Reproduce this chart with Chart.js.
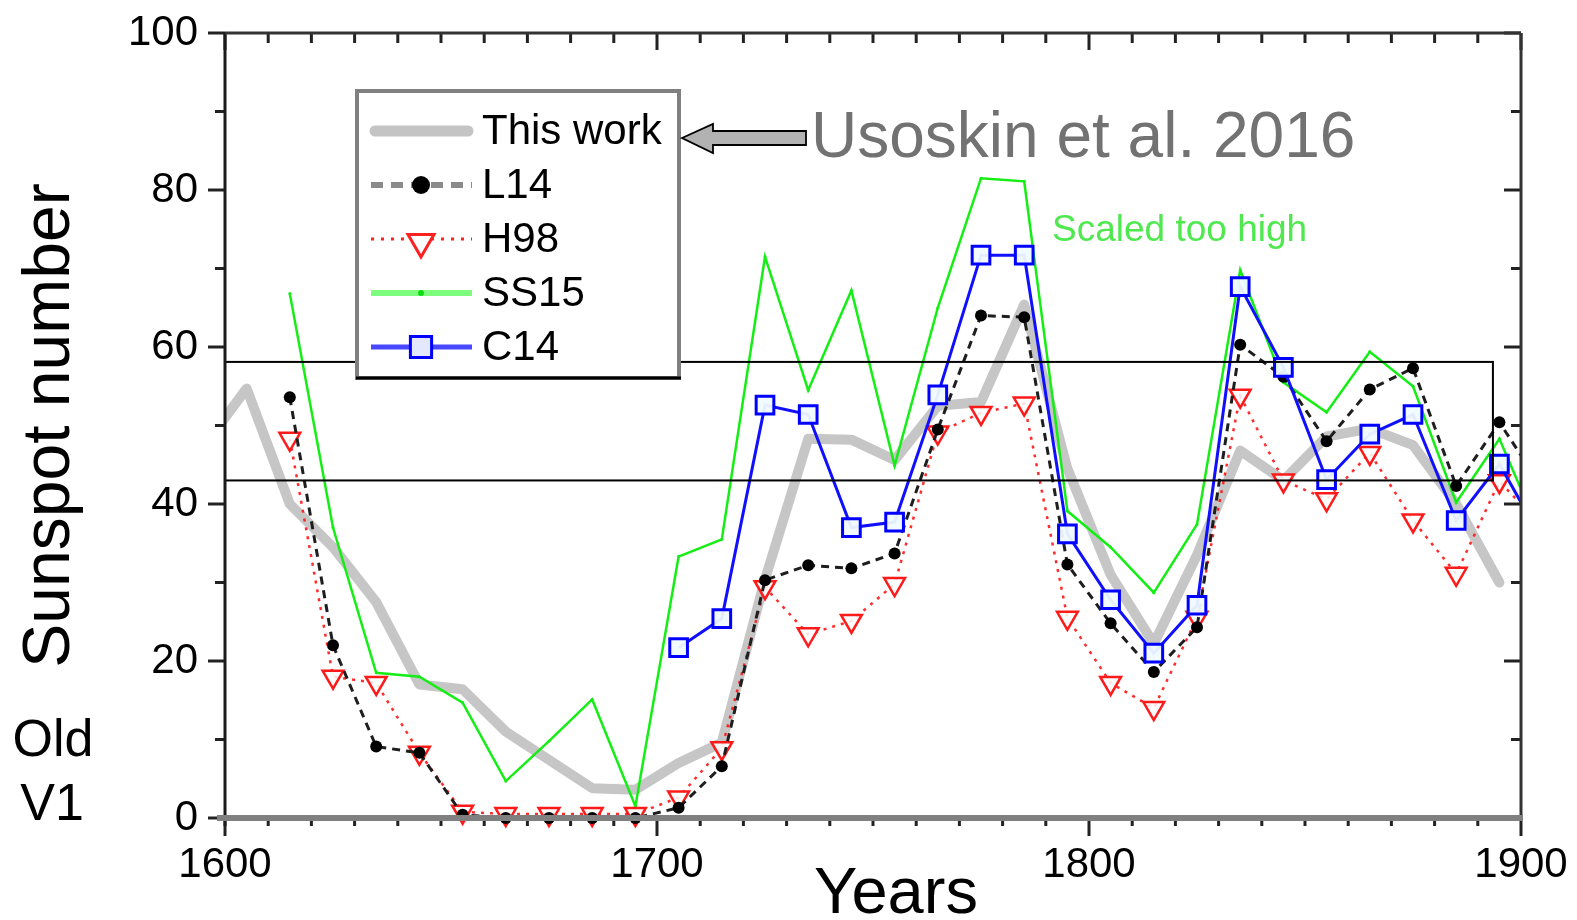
<!DOCTYPE html>
<html>
<head>
<meta charset="utf-8">
<script src="https://cdn.jsdelivr.net/npm/chart.js@4/dist/chart.umd.min.js"></script>
<style>
  html, body { margin: 0; padding: 0; background: #fff; }
  #wrap { position: relative; width: 1577px; height: 920px; }
</style>
</head>
<body>
<div id="wrap"><canvas id="chart"></canvas></div>
<script>
// decade mid-points; 1595 and 1905 sit just outside the axis and get clipped
const YEARS = [1595, 1605, 1615, 1625, 1635, 1645, 1655, 1665, 1675, 1685, 1695,
    1705, 1715, 1725, 1735, 1745, 1755, 1765, 1775, 1785, 1795,
    1805, 1815, 1825, 1835, 1845, 1855, 1865, 1875, 1885, 1895, 1905];

const THIS_WORK = [47.3, 54.7, 40.0, 34.5, 27.5, 17.0, 16.4, 11.0, 7.4, 3.8, 3.6,
    7.0, 9.6, 30.4, 48.3, 48.2, 45.6, 52.5, 53.0, 65.4, 44.5,
    31.0, 22.2, 33.5, 46.8, 43.0, 48.6, 49.6, 47.5, 40.0, 30.0, null];

const L14 = [null, null, 53.6, 22.0, 9.1, 8.3, 0.4, 0, 0, 0, 0,
    1.3, 6.6, 30.3, 32.2, 31.8, 33.7, 49.5, 64.0, 63.8, 32.3,
    24.8, 18.6, 24.3, 60.3, 56.2, 48.0, 54.6, 57.3, 42.3, 50.4, 42.0];

const H98 = [null, null, 48.3, 18.0, 17.2, 8.3, 0.8, 0.5, 0.5, 0.5, 0.5,
    2.6, 8.9, 29.4, 23.4, 25.1, 29.8, 49.1, 51.6, 52.8, 25.5,
    17.2, 14.0, 25.5, 53.8, 43.0, 40.6, 46.5, 37.9, 31.1, 42.9, 37.0];

const SS15 = [null, null, 66.8, 37.0, 18.5, 18.0, 14.7, 4.7, 9.8, 15.1, 1.5,
    33.3, 35.5, 71.5, 54.5, 67.2, 44.9, 65.0, 81.5, 81.1, 39.1,
    34.5, 28.7, 37.4, 69.8, 55.5, 51.7, 59.4, 55.0, 40.2, 48.3, 35.5];

const C14 = [null, null, null, null, null, null, null, null, null, null, null,
    21.7, 25.4, 52.6, 51.4, 37.0, 37.7, 53.9, 71.7, 71.7, 36.2,
    27.8, 21.0, 27.1, 67.7, 57.4, 43.1, 48.9, 51.4, 37.9, 45.1, 35.3];

const X_TICKS = [1600, 1700, 1800, 1900];
const Y_TICKS = [0, 20, 40, 60, 80, 100];
const SHADED_BAND = { from: 1600, to: 1893.5, low: 43.0, high: 58.1 };

const FONT = "'Liberation Sans', Arial, sans-serif";

function pairs(values) {
    return YEARS.map(function (yr, i) {
        return { x: yr, y: values[i] };
    });
}

const CLIP = { left: 0, right: 0, top: 30, bottom: 30 };

const datasets = [
    {
        label: 'This work',
        data: pairs(THIS_WORK),
        borderColor: '#c6c6c6',
        borderWidth: 10,
        borderJoinStyle: 'round',
        borderCapStyle: 'round',
        pointRadius: 0,
        order: 5,
        clip: CLIP,
    },
    {
        label: 'SS15',
        data: pairs(SS15),
        borderColor: '#14ee14',
        borderWidth: 2.5,
        pointRadius: 1.5,
        pointBackgroundColor: '#14ee14',
        pointBorderWidth: 0,
        order: 4,
        clip: CLIP,
    },
    {
        label: 'H98',
        data: pairs(H98),
        borderColor: 'rgba(255, 20, 20, 0.9)',
        borderWidth: 2.5,
        borderDash: [3, 6],
        pointStyle: 'triangle',
        rotation: 180,
        pointRadius: 12,
        pointBorderWidth: 2.5,
        pointBorderColor: '#ff1a1a',
        pointBackgroundColor: 'rgba(255, 255, 255, 0.85)',
        order: 3,
        clip: CLIP,
    },
    {
        label: 'L14',
        data: pairs(L14),
        borderColor: '#1e1e1e',
        borderWidth: 3,
        borderDash: [8, 6],
        pointStyle: 'circle',
        pointRadius: 6,
        pointBorderWidth: 0,
        pointBackgroundColor: '#000',
        order: 2,
        clip: CLIP,
    },
    {
        label: 'C14',
        data: pairs(C14),
        borderColor: '#1010ff',
        borderWidth: 3,
        pointStyle: 'rect',
        pointRadius: 12.5,
        pointBorderWidth: 3,
        pointBorderColor: '#0000ff',
        pointBackgroundColor: 'rgba(240, 250, 255, 0.95)',
        order: 1,
        clip: CLIP,
    },
];

function line(ctx, x1, y1, x2, y2) {
    ctx.beginPath();
    ctx.moveTo(x1, y1);
    ctx.lineTo(x2, y2);
    ctx.stroke();
}

function marker(ctx, opts, x, y) {
    if (window.Chart && Chart.helpers && Chart.helpers.drawPoint) {
        Chart.helpers.drawPoint(ctx, opts, x, y);
    }
}

// frame, minor ticks, reference band, legend and the annotations
const decorations = {
    id: 'decorations',
    afterDatasetsDraw: function (chart) {
        const ctx = chart.ctx;
        const xs = chart.scales.x;
        const ys = chart.scales.y;
        ctx.save();
        ctx.strokeStyle = '#000';
        ctx.lineWidth = 2;
        const bx1 = xs.getPixelForValue(SHADED_BAND.from);
        const bx2 = xs.getPixelForValue(SHADED_BAND.to);
        const by1 = ys.getPixelForValue(SHADED_BAND.high);
        const by2 = ys.getPixelForValue(SHADED_BAND.low);
        ctx.strokeRect(bx1, by1, bx2 - bx1, by2 - by1);
        ctx.restore();
    },
    afterDraw: function (chart) {
        const ctx = chart.ctx;
        const a = chart.chartArea;
        const xs = chart.scales.x;
        const ys = chart.scales.y;
        ctx.save();

        // ticks
        ctx.lineWidth = 3;
        ctx.strokeStyle = '#222';
        for (let v = 0; v <= 100; v += 10) {
            const py = ys.getPixelForValue(v);
            const len = v % 20 === 0 ? 17 : 10;
            line(ctx, a.left - len, py, a.left, py);
            line(ctx, a.right - len, py, a.right, py);
        }
        for (let yr = 1600; yr <= 1900; yr += 10) {
            const px = xs.getPixelForValue(yr);
            const major = yr % 100 === 0;
            line(ctx, px, a.bottom, px, a.bottom + (major ? 18 : 8));
            line(ctx, px, a.top, px, a.top + (major ? 17 : 10));
        }

        // axes
        ctx.lineWidth = 3;
        ctx.strokeStyle = '#1a1a1a';
        line(ctx, a.left, a.top - 1, a.left, a.bottom + 8);
        ctx.strokeStyle = '#333';
        line(ctx, a.left, a.top, a.right, a.top);
        line(ctx, a.right, a.top, a.right, a.bottom);
        ctx.lineWidth = 6;
        ctx.strokeStyle = '#808080';
        line(ctx, a.left - 8, a.bottom, a.right + 2, a.bottom);

        // legend
        const lg = { left: 357, top: 91, right: 679, bottom: 378 };
        ctx.fillStyle = '#fff';
        ctx.fillRect(lg.left, lg.top, lg.right - lg.left, lg.bottom - lg.top);
        ctx.lineWidth = 4;
        ctx.strokeStyle = '#808080';
        ctx.strokeRect(lg.left, lg.top, lg.right - lg.left, lg.bottom - lg.top);
        ctx.lineWidth = 3;
        ctx.strokeStyle = '#000';
        line(ctx, lg.left - 1, lg.bottom, lg.right + 2, lg.bottom);

        const rows = [
            { label: 'This work', y: 131 },
            { label: 'L14', y: 185 },
            { label: 'H98', y: 239 },
            { label: 'SS15', y: 293 },
            { label: 'C14', y: 347 },
        ];
        const x1 = 371, x2 = 472, xm = 421;
        ctx.font = '42px ' + FONT;
        ctx.textBaseline = 'middle';
        ctx.textAlign = 'left';
        rows.forEach(function (r) {
            ctx.save();
            ctx.setLineDash([]);
            if (r.label === 'This work') {
                ctx.lineCap = 'round';
                ctx.lineWidth = 11;
                ctx.strokeStyle = '#c4c4c4';
                line(ctx, x1 + 4, r.y, x2 - 4, r.y);
            } else if (r.label === 'L14') {
                ctx.lineWidth = 6;
                ctx.strokeStyle = '#8a8a8a';
                ctx.setLineDash([12, 8]);
                line(ctx, x1, r.y, x2, r.y);
                ctx.setLineDash([]);
                ctx.fillStyle = '#000';
                marker(ctx, { pointStyle: 'circle', radius: 9, borderWidth: 0 }, xm, r.y);
            } else if (r.label === 'H98') {
                ctx.lineWidth = 3;
                ctx.strokeStyle = '#ff2020';
                ctx.setLineDash([3, 7]);
                line(ctx, x1, r.y, x2, r.y);
                ctx.setLineDash([]);
                ctx.fillStyle = '#fff';
                ctx.lineWidth = 3;
                marker(ctx, { pointStyle: 'triangle', rotation: 180, radius: 15, borderWidth: 3 }, xm, r.y + 3);
            } else if (r.label === 'SS15') {
                ctx.lineWidth = 6;
                ctx.strokeStyle = '#7dfc7d';
                line(ctx, x1, r.y, x2, r.y);
                ctx.fillStyle = '#10dd10';
                marker(ctx, { pointStyle: 'circle', radius: 3, borderWidth: 0 }, xm, r.y);
            } else {
                ctx.lineWidth = 5;
                ctx.strokeStyle = '#4848ff';
                line(ctx, x1, r.y, x2, r.y);
                ctx.fillStyle = '#e4e8ff';
                ctx.strokeStyle = '#0000ff';
                ctx.lineWidth = 3;
                marker(ctx, { pointStyle: 'rect', radius: 15, borderWidth: 3 }, xm, r.y);
            }
            ctx.restore();
            ctx.fillStyle = '#000';
            ctx.fillText(r.label, 482, r.y + 1);
        });

        // arrow pointing at the legend entry
        ctx.beginPath();
        ctx.moveTo(682, 138);
        ctx.lineTo(713, 124);
        ctx.lineTo(713, 131);
        ctx.lineTo(806, 131);
        ctx.lineTo(806, 145);
        ctx.lineTo(713, 145);
        ctx.lineTo(713, 153);
        ctx.closePath();
        ctx.fillStyle = '#b2b2b2';
        ctx.fill();
        ctx.lineWidth = 1.8;
        ctx.strokeStyle = '#000';
        ctx.stroke();

        ctx.textBaseline = 'alphabetic';
        ctx.fillStyle = '#727272';
        ctx.font = '64px ' + FONT;
        ctx.fillText('Usoskin et al. 2016', 811, 157);

        ctx.fillStyle = '#4fe84f';
        ctx.font = '37px ' + FONT;
        ctx.fillText('Scaled too high', 1052, 241);

        ctx.fillStyle = '#000';
        ctx.textAlign = 'center';
        ctx.font = '52px ' + FONT;
        ctx.fillText('Old', 53, 756);
        ctx.fillText('V1', 52, 820);

        ctx.font = '65px ' + FONT;
        ctx.fillText('Years', 896, 913);

        ctx.restore();
    },
};

new Chart(document.getElementById('chart'), {
    type: 'line',
    data: { datasets: datasets },
    options: {
        responsive: true,
        maintainAspectRatio: false,
        animation: false,
        events: [],
        layout: { padding: { top: 33, right: 56, left: 0, bottom: 0 } },
        plugins: {
            legend: { display: false },
            tooltip: { enabled: false },
        },
        scales: {
            x: {
                type: 'linear',
                min: 1600,
                max: 1900,
                afterFit: function (scale) {
                    scale.height = 102;
                    scale.paddingLeft = 0;
                    scale.paddingRight = 0;
                },
                afterBuildTicks: function (scale) {
                    scale.ticks = X_TICKS.map(function (v) { return { value: v }; });
                },
                grid: { display: false, drawTicks: false },
                border: { display: false },
                ticks: {
                    color: '#000',
                    padding: 22,
                    maxRotation: 0,
                    font: { family: FONT, size: 42 },
                    callback: function (v) { return String(v); },
                },
            },
            y: {
                min: 0,
                max: 100,
                afterFit: function (scale) {
                    scale.width = 225;
                    scale.paddingTop = 0;
                    scale.paddingBottom = 0;
                },
                afterBuildTicks: function (scale) {
                    scale.ticks = Y_TICKS.map(function (v) { return { value: v }; });
                },
                grid: { display: false, drawTicks: false },
                border: { display: false },
                ticks: {
                    color: '#000',
                    padding: 27,
                    font: { family: FONT, size: 42 },
                },
                title: {
                    display: true,
                    text: 'Sunspot number',
                    color: '#000',
                    font: { family: FONT, size: 66, lineHeight: 1 },
                    padding: { top: 18, bottom: 0 },
                },
            },
        },
    },
    plugins: [decorations],
});
</script>
</body>
</html>
